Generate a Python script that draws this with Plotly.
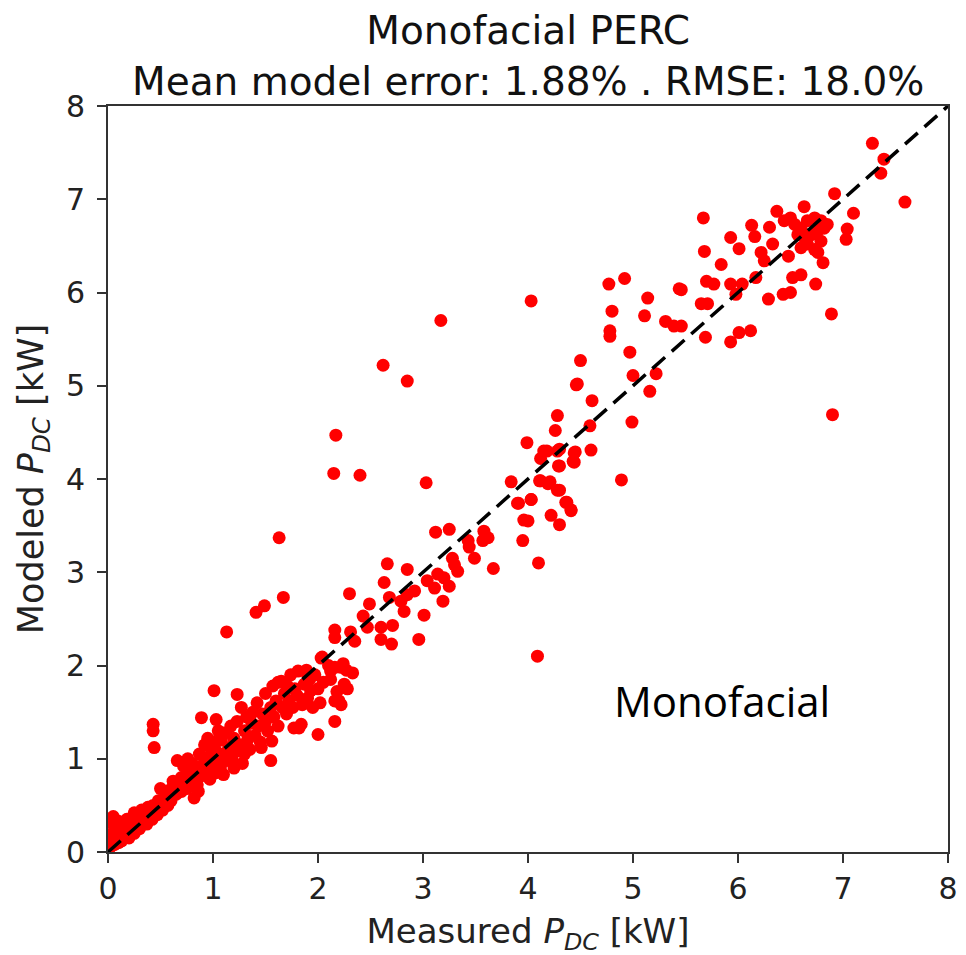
import plotly.graph_objects as go

measured = [
    # near origin / low band
    0.02,0.03,0.04,0.05,0.05,0.06,0.08,0.08,0.10,0.10,0.12,0.13,0.15,0.15,0.17,0.18,0.20,0.20,0.22,0.25,
    0.25,0.27,0.30,0.30,0.32,0.33,0.35,0.37,0.38,0.40,0.42,0.43,0.45,0.47,0.48,0.50,0.50,0.52,0.55,0.57,
    0.58,0.60,0.62,0.62,0.65,0.66,0.68,0.70,0.70,0.72,0.74,0.75,0.76,0.78,0.80,0.80,0.82,0.83,0.85,0.86,
    0.87,0.88,0.90,0.92,0.93,0.95,0.95,0.97,0.98,1.00,1.00,1.02,1.03,1.05,1.05,1.07,1.08,1.10,1.10,1.12,
    1.13,1.15,1.17,1.18,1.20,1.20,1.22,1.23,1.25,1.27,1.28,1.30,1.30,1.32,1.33,1.35,1.37,1.38,1.40,1.42,
    1.43,1.45,1.46,1.47,1.50,1.50,1.52,1.55,1.57,1.58,1.60,1.62,1.65,1.66,1.68,1.70,1.72,1.74,1.76,1.78,
    1.80,1.84,1.87,1.90,1.92,1.95,1.97,2.00,2.02,2.05,2.10,2.12,2.18,2.20,2.25,2.28,2.27,
    0.43,0.43,0.44,1.01,1.23,0.89,1.03,2.00,1.55,1.56,2.16,2.16,2.22,2.12,2.22,2.03,1.93,1.85,1.81,1.89,
    1.62,1.71,1.77,1.82,1.13,1.41,1.49,1.63,1.67,
    # middle
    2.17,2.15,2.40,3.03,2.85,2.62,3.17,4.03,
    3.12,3.25,3.58,3.62,3.57,3.43,3.44,3.49,3.67,3.28,3.30,3.33,2.66,2.85,2.63,3.14,3.20,3.25,3.04,3.11,
    3.19,2.68,2.79,2.85,2.92,2.82,2.30,2.49,3.01,2.43,2.47,2.16,2.16,2.31,2.60,2.71,2.60,2.70,2.96,2.35,
    2.04,2.16,2.24,2.33,1.89,4.09,4.10,
    # upper-middle
    4.77,4.92,5.44,5.14,5.11,4.80,4.78,4.78,5.31,5.39,4.97,4.50,4.47,5.00,5.22,5.16,4.61,4.99,4.59,4.28,
    4.26,3.99,4.60,4.45,4.43,4.30,4.18,4.12,4.30,3.84,4.12,4.21,4.30,4.89,4.03,3.91,4.37,4.41,4.22,3.96,
    4.00,4.30,3.95,4.15,4.28,4.44,4.44,4.29,4.11,4.19,4.28,4.03,3.90,4.36,4.41,4.46,
    # top cluster
    7.28,7.39,7.36,7.59,6.92,7.10,7.04,7.03,5.67,5.68,5.93,6.01,6.13,6.16,6.30,6.37,6.63,5.84,5.70,5.77,
    5.46,5.93,6.04,5.98,5.65,5.71,6.17,6.22,6.25,6.33,6.29,6.43,6.50,6.52,6.60,6.48,6.74,6.81,6.76,6.89,
    6.90,5.69,5.93,6.01,6.12,5.46,6.44,6.54,6.60,6.66,6.73,6.79,6.85,6.57,6.63,6.70,6.76,6.82,6.66,6.73,
    6.79,6.60,6.50,
]
modeled = [
    0.05,0.12,0.20,0.30,0.38,0.08,0.15,0.25,0.33,0.10,0.20,0.12,0.28,0.18,0.22,0.35,0.15,0.30,0.25,0.20,
    0.42,0.30,0.25,0.38,0.45,0.32,0.40,0.30,0.48,0.42,0.35,0.50,0.45,0.40,0.55,0.50,0.68,0.45,0.60,0.50,
    0.66,0.55,0.70,0.76,0.62,0.98,0.72,0.65,0.80,0.92,0.75,0.68,1.00,0.85,0.78,0.95,0.58,0.88,0.72,0.65,
    1.05,0.92,0.82,1.15,0.98,1.22,0.88,0.78,1.05,0.95,1.18,1.10,0.85,1.30,1.00,0.90,1.20,0.83,1.05,1.28,
    0.98,1.12,1.35,1.00,1.22,0.90,1.08,1.40,1.15,1.55,0.95,1.30,1.05,1.45,1.20,1.10,1.38,1.50,1.25,1.60,
    1.35,1.18,1.12,1.48,1.40,1.70,1.30,1.55,1.78,1.45,1.62,1.35,1.83,1.55,1.70,1.48,1.62,1.90,1.55,1.75,
    1.68,1.37,1.80,1.65,1.85,1.55,1.90,1.75,1.60,1.82,2.00,1.85,1.72,1.62,1.80,1.75,1.95,
    1.37,1.30,1.12,1.73,1.69,1.44,1.42,1.26,0.98,1.19,1.40,1.62,1.58,1.94,1.98,2.08,1.73,1.58,1.94,1.92,
    1.82,1.78,1.33,1.33,2.36,2.57,2.64,3.37,2.73,
    4.47,4.06,4.04,3.96,5.05,5.22,5.70,5.91,
    3.43,3.46,3.44,3.37,3.34,3.34,3.27,3.15,3.04,3.15,3.08,3.01,3.09,3.03,2.89,2.98,2.94,2.85,2.91,2.83,
    2.69,2.73,2.69,2.76,2.80,2.58,2.77,2.66,2.54,2.53,2.41,2.38,2.30,2.36,2.41,2.43,2.28,2.23,2.28,2.26,
    2.09,1.98,2.02,1.92,1.95,2.10,3.10,
    6.09,6.15,6.04,5.94,5.75,5.80,5.59,5.53,5.69,5.64,5.36,5.27,5.02,5.11,5.13,4.94,4.84,4.61,4.57,4.68,
    4.52,4.39,4.31,4.29,4.19,4.32,4.30,4.22,4.14,3.97,3.98,3.97,3.88,3.99,3.78,3.74,3.75,3.66,3.61,3.56,
    3.55,3.51,3.34,4.30,4.30,4.28,4.18,4.14,3.98,3.95,3.88,3.78,3.74,3.75,3.67,5.01,
    7.60,7.43,7.28,6.97,7.06,6.85,6.68,6.57,6.80,6.44,6.59,6.47,6.72,6.60,6.70,6.87,6.92,6.30,6.12,6.09,
    6.03,6.09,6.09,5.98,5.88,5.88,6.16,6.43,6.34,6.52,5.93,5.98,6.00,6.16,6.19,6.39,6.09,6.32,6.43,5.77,
    4.69,5.52,5.47,5.57,5.59,5.64,6.77,6.73,6.69,6.77,6.80,6.77,6.73,6.62,6.59,6.62,6.66,6.69,6.52,6.46,
    6.55,6.48,6.80,
]

line_x = [0, 8]
line_y = [0, 8]

title_line1 = "Monofacial PERC"
title_line2 = "Mean model error: 1.88% . RMSE: 18.0%"
x_label = "Measured <i>P<sub>DC</sub></i> [kW]"
y_label = "Modeled <i>P<sub>DC</sub></i> [kW]"
tick_vals = [0, 1, 2, 3, 4, 5, 6, 7, 8]
annotation_text = "Monofacial"

fig = go.Figure()
fig.add_trace(go.Scatter(
    x=measured, y=modeled, mode="markers",
    marker=dict(color="#ff0000", size=13, line=dict(width=0)),
    showlegend=False,
))
fig.add_trace(go.Scatter(
    x=line_x, y=line_y, mode="lines",
    line=dict(color="black", width=3.5, dash="17px,9px"),
    showlegend=False,
))

axis_common = dict(
    range=[0, 8], tickvals=tick_vals, ticks="outside", ticklen=9, tickwidth=1.5,
    tickcolor="#333", showline=True, linecolor="#333", linewidth=2, mirror=True,
    showgrid=False, zeroline=False,
    tickfont=dict(family="DejaVu Sans", size=30, color="#222"),
)
fig.update_xaxes(**axis_common,
                 title=dict(text=x_label, font=dict(family="DejaVu Sans", size=34, color="#222"), standoff=14))
fig.update_yaxes(**axis_common, ticklabelstandoff=6,
                 title=dict(text=y_label, font=dict(family="DejaVu Sans", size=35, color="#222"), standoff=12))

fig.add_annotation(
    x=0.5, y=1.0, xref="paper", yref="paper", yanchor="bottom", yshift=0,
    text=title_line1 + "<br>" + title_line2, showarrow=False,
    font=dict(family="DejaVu Sans", size=39, color="#111"),
)
fig.add_annotation(
    x=5.85, y=1.62, xref="x", yref="y", text=annotation_text, showarrow=False,
    font=dict(family="Open Sans", size=42, color="black"),
)

fig.update_layout(
    width=966, height=955,
    margin=dict(l=100, r=26, t=98, b=111),
    plot_bgcolor="white", paper_bgcolor="white",
)
fig.write_html("out.html")
